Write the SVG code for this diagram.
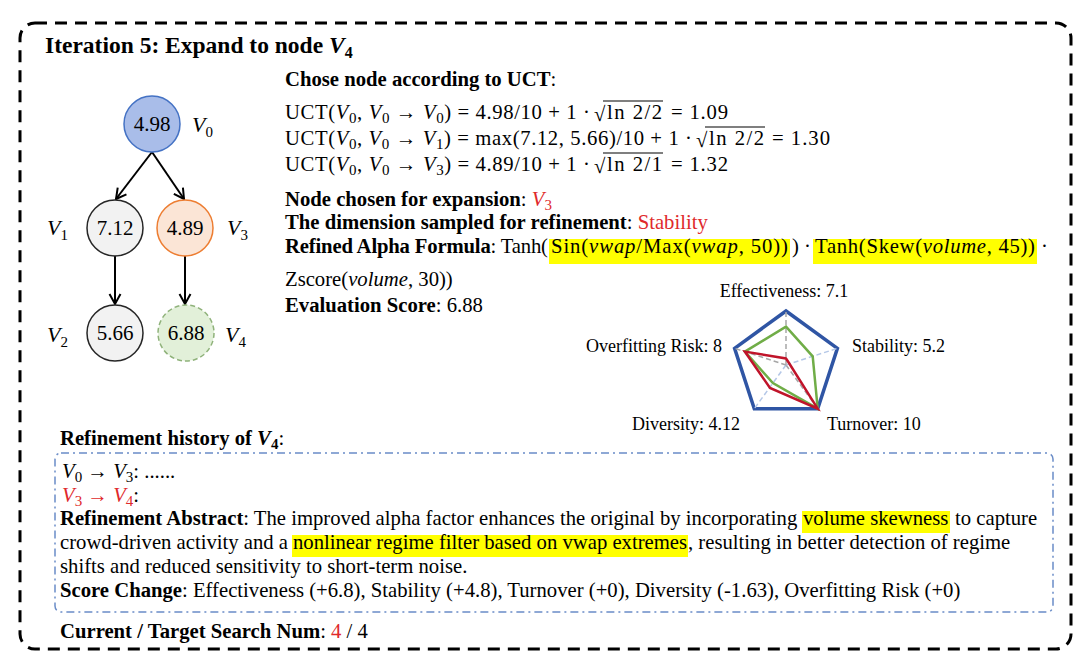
<svg xmlns="http://www.w3.org/2000/svg" width="1090" height="666" viewBox="0 0 1090 666">
<defs>
<style>
text{font-family:'Liberation Serif','Times New Roman',serif;fill:#000}
.t{font-size:20.7px}
.b{font-weight:bold}
.i{font-style:italic}
.red{fill:#e0292b}
.sub{font-size:15px}
.num{font-size:21px;text-anchor:middle}
.lbl{font-size:22px;font-style:italic}
.rl{font-size:18px}
.hl{fill:#ffff00}
.edge{stroke:#000;stroke-width:2;fill:none;marker-end:url(#arr)}
.axis{stroke-width:1.5;stroke-dasharray:5 3;fill:none}
</style>
<marker id="arr" markerUnits="userSpaceOnUse" markerWidth="16" markerHeight="16" refX="12" refY="7" orient="auto">
<path d="M2,1.5 L12,7 L2,12.5" fill="none" stroke="#000" stroke-width="2"/>
</marker>
</defs>
<rect x="0" y="0" width="1090" height="666" fill="#fff"/>
<rect x="20" y="23" width="1051" height="626" rx="15" fill="none" stroke="#000" stroke-width="3" stroke-dasharray="12 8"/>

<text x="45" y="53" font-size="23.5" font-weight="bold">Iteration 5: Expand to node <tspan font-style="italic">V</tspan><tspan font-size="16" dy="5">4</tspan></text>

<g id="connectors">
<line class="edge" x1="152" y1="152" x2="116" y2="199"/>
<line class="edge" x1="152" y1="152" x2="184" y2="199"/>
<line class="edge" x1="115" y1="256" x2="115" y2="304"/>
<line class="edge" x1="185" y1="256" x2="185" y2="304"/>
</g>

<g id="node-V0">
<circle cx="152" cy="124" r="28" fill="#a9bde9" stroke="#4472c4" stroke-width="1.5"/>
<text class="num" x="152" y="131">4.98</text>
<text class="lbl" x="192" y="132">V<tspan class="sub" font-style="normal" dy="5">0</tspan></text>
</g>
<g id="node-V1">
<circle cx="115" cy="228" r="28" fill="#f2f2f2" stroke="#262626" stroke-width="1.5"/>
<text class="num" x="115" y="235">7.12</text>
<text class="lbl" x="47" y="235">V<tspan class="sub" font-style="normal" dy="5">1</tspan></text>
</g>
<g id="node-V3">
<circle cx="185" cy="228" r="28" fill="#fbe5d6" stroke="#ed7d31" stroke-width="1.5"/>
<text class="num" x="185" y="235">4.89</text>
<text class="lbl" x="227" y="235">V<tspan class="sub" font-style="normal" dy="5">3</tspan></text>
</g>
<g id="node-V2">
<circle cx="115" cy="333" r="28" fill="#f2f2f2" stroke="#262626" stroke-width="1.5"/>
<text class="num" x="115" y="340">5.66</text>
<text class="lbl" x="47" y="342">V<tspan class="sub" font-style="normal" dy="5">2</tspan></text>
</g>
<g id="node-V4">
<circle cx="186" cy="333" r="28" fill="#e2f0d9" stroke="#8fb27a" stroke-width="1.5" stroke-dasharray="5 3"/>
<text class="num" x="186" y="340">6.88</text>
<text class="lbl" x="225" y="342">V<tspan class="sub" font-style="normal" dy="5">4</tspan></text>
</g>

<g id="uct">
<text class="t b" x="285" y="86">Chose node according to UCT<tspan font-weight="normal">:</tspan></text>

<text class="t" x="285" y="119" textLength="305" lengthAdjust="spacing">UCT(<tspan class="i">V</tspan><tspan class="sub" dy="4">0</tspan><tspan dy="-4">, </tspan><tspan class="i">V</tspan><tspan class="sub" dy="4">0</tspan><tspan dy="-4"> → </tspan><tspan class="i">V</tspan><tspan class="sub" dy="4">0</tspan><tspan dy="-4">) = 4.98/10 + 1 ·</tspan></text>
<text class="t" x="594" y="121">√</text>
<line x1="603" y1="101" x2="663" y2="101" stroke="#000" stroke-width="1.2"/>
<text class="t" x="607" y="119" textLength="55" lengthAdjust="spacing">ln 2/2</text>
<text class="t" x="671" y="119" textLength="57" lengthAdjust="spacing">= 1.09</text>

<text class="t" x="285" y="145" textLength="407" lengthAdjust="spacing">UCT(<tspan class="i">V</tspan><tspan class="sub" dy="4">0</tspan><tspan dy="-4">, </tspan><tspan class="i">V</tspan><tspan class="sub" dy="4">0</tspan><tspan dy="-4"> → </tspan><tspan class="i">V</tspan><tspan class="sub" dy="4">1</tspan><tspan dy="-4">) = max(7.12, 5.66)/10 + 1 ·</tspan></text>
<text class="t" x="696" y="147">√</text>
<line x1="705" y1="127" x2="765" y2="127" stroke="#000" stroke-width="1.2"/>
<text class="t" x="709" y="145" textLength="55" lengthAdjust="spacing">ln 2/2</text>
<text class="t" x="772" y="145" textLength="58" lengthAdjust="spacing">= 1.30</text>

<text class="t" x="285" y="171" textLength="305" lengthAdjust="spacing">UCT(<tspan class="i">V</tspan><tspan class="sub" dy="4">0</tspan><tspan dy="-4">, </tspan><tspan class="i">V</tspan><tspan class="sub" dy="4">0</tspan><tspan dy="-4"> → </tspan><tspan class="i">V</tspan><tspan class="sub" dy="4">3</tspan><tspan dy="-4">) = 4.89/10 + 1 ·</tspan></text>
<text class="t" x="594" y="173">√</text>
<line x1="603" y1="153" x2="663" y2="153" stroke="#000" stroke-width="1.2"/>
<text class="t" x="607" y="171" textLength="55" lengthAdjust="spacing">ln 2/1</text>
<text class="t" x="671" y="171" textLength="57" lengthAdjust="spacing">= 1.32</text>
</g>

<g id="details">
<text class="t" x="285" y="206"><tspan class="b">Node chosen for expansion</tspan>: <tspan class="i red">V</tspan><tspan class="sub red" dy="4">3</tspan></text>
<text class="t" x="285" y="229"><tspan class="b">The dimension sampled for refinement</tspan>: <tspan class="red">Stability</tspan></text>

<rect class="hl" x="549" y="239" width="241" height="25"/>
<rect class="hl" x="813" y="239" width="224" height="25"/>
<text class="t" x="285" y="253" textLength="263" lengthAdjust="spacing"><tspan class="b">Refined Alpha Formula</tspan>: Tanh(</text>
<text class="t" x="551" y="253" textLength="237" lengthAdjust="spacing">Sin(<tspan class="i">vwap</tspan>/Max(<tspan class="i">vwap</tspan>, 50))</text>
<text class="t" x="792" y="253">) ·</text>
<text class="t" x="815" y="253" textLength="220" lengthAdjust="spacing">Tanh(Skew(<tspan class="i">volume</tspan>, 45))</text>
<text class="t" x="1041" y="253">·</text>
<text class="t" x="285" y="286">Zscore(<tspan class="i">volume</tspan>, 30))</text>
<text class="t" x="285" y="312"><tspan class="b">Evaluation Score</tspan>: 6.88</text>
</g>

<g id="radar">
<polygon points="786,311 837.4,348.3 817.7,408.7 754.3,408.7 734.6,348.3" fill="none" stroke="#2f55a4" stroke-width="3.5"/>
<line class="axis" x1="786" y1="365" x2="786" y2="311" stroke="#a6a6a6"/>
<line class="axis" x1="786" y1="365" x2="837.4" y2="348.3" stroke="#b4c7e7"/>
<line class="axis" x1="786" y1="365" x2="817.7" y2="408.7" stroke="#a6a6a6"/>
<line class="axis" x1="786" y1="365" x2="754.3" y2="408.7" stroke="#b4c7e7"/>
<line class="axis" x1="786" y1="365" x2="734.6" y2="348.3" stroke="#a6a6a6"/>
<polygon points="786,326.7 812.7,356.3 817.7,408.7 772.9,383 744.9,351.6" fill="none" stroke="#70ad47" stroke-width="2.5"/>
<polygon points="786,358.5 789,363 817.7,408.7 770,388 744.9,351.6" fill="none" stroke="#c0142a" stroke-width="2.5"/>
<text class="rl" x="784" y="297" text-anchor="middle">Effectiveness: 7.1</text>
<text class="rl" x="722" y="352" text-anchor="end">Overfitting Risk: 8</text>
<text class="rl" x="852" y="352">Stability: 5.2</text>
<text class="rl" x="632" y="430">Diversity: 4.12</text>
<text class="rl" x="827" y="430">Turnover: 10</text>
</g>

<g id="history">
<text class="t b" x="60" y="445">Refinement history of <tspan font-style="italic">V</tspan><tspan class="sub" dy="4">4</tspan><tspan dy="-4" font-weight="normal">:</tspan></text>
<rect x="55" y="453" width="998" height="159" rx="6" fill="none" stroke="#6a8cc7" stroke-width="1.5" stroke-dasharray="8 4 2 4"/>
<text class="t" x="62" y="478"><tspan class="i">V</tspan><tspan class="sub" dy="4">0</tspan><tspan dy="-4"> → </tspan><tspan class="i">V</tspan><tspan class="sub" dy="4">3</tspan><tspan dy="-4">:  ......</tspan></text>
<text class="t" x="62" y="502"><tspan class="i red">V</tspan><tspan class="sub red" dy="4">3</tspan><tspan class="red" dy="-4"> → </tspan><tspan class="i red">V</tspan><tspan class="sub red" dy="4">4</tspan><tspan dy="-4">:</tspan></text>
<rect class="hl" x="802" y="511" width="148" height="22"/>
<rect class="hl" x="292" y="535" width="396" height="22"/>
<text class="t" x="60" y="525"><tspan class="b">Refinement Abstract</tspan>: The improved alpha factor enhances the original by incorporating <tspan x="803">volume skewness</tspan><tspan x="955">to capture</tspan></text>
<text class="t" x="60" y="549">crowd-driven activity and a <tspan x="293">nonlinear regime filter based on vwap extremes</tspan><tspan x="688">, resulting in better detection of regime</tspan></text>
<text class="t" x="60" y="573">shifts and reduced sensitivity to short-term noise.</text>
<text class="t" x="60" y="597"><tspan class="b">Score Change</tspan>: Effectiveness (+6.8), Stability (+4.8), Turnover (+0), Diversity (-1.63), Overfitting Risk (+0)</text>
<text class="t" x="60" y="638"><tspan class="b">Current / Target Search Num</tspan>: <tspan class="red">4</tspan> / 4</text>
</g>
</svg>
